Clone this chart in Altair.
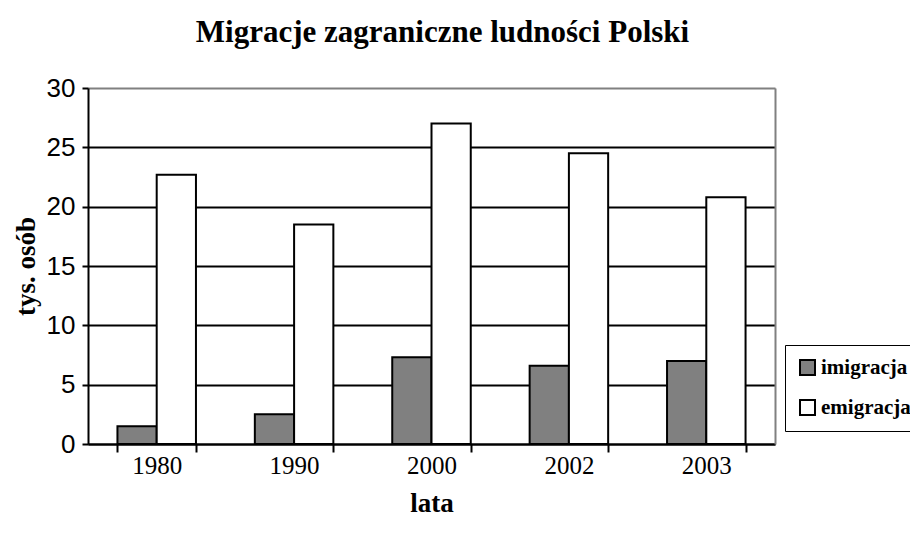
import altair as alt
import pandas as pd

years = ["1980", "1990", "2000", "2002", "2003"]
series = ["imigracja", "emigracja"]
imigracja = [1.5, 2.5, 7.3, 6.6, 7.0]
emigracja = [22.7, 18.5, 27.0, 24.5, 20.8]
y_ticks = [0, 5, 10, 15, 20, 25, 30]

rows = []
for i, y in enumerate(years):
    rows.append({"rok": y, "typ": "imigracja", "wartosc": imigracja[i]})
    rows.append({"rok": y, "typ": "emigracja", "wartosc": emigracja[i]})
df = pd.DataFrame(rows)

serif = "Liberation Serif"
sans = "Liberation Sans"

yscale = alt.Scale(domain=[0, 30], nice=False, zero=True)

bars = alt.Chart(df).mark_bar(stroke="black", strokeWidth=2).encode(
    x=alt.X(
        "rok:N",
        sort=years,
        scale=alt.Scale(paddingInner=3 / 7, paddingOuter=1.5 / 7),
        axis=alt.Axis(
            title="lata",
            labelAngle=0,
            labelFont=serif,
            labelFontSize=25,
            labelColor="black",
            labelPadding=1,
            tickBand="extent",
            tickSize=8,
            tickWidth=2,
            tickColor="black",
            domainColor="black",
            domainWidth=2,
            titleFont=serif,
            titleFontSize=27,
            titleFontWeight="bold",
            titleColor="black",
            titlePadding=12,
            grid=False,
        ),
    ),
    xOffset=alt.XOffset("typ:N", sort=series, scale=alt.Scale(paddingInner=0, paddingOuter=0)),
    y=alt.Y(
        "wartosc:Q",
        scale=yscale,
        axis=alt.Axis(
            title="tys. osób",
            values=y_ticks,
            labelFont=sans,
            labelFontSize=26,
            labelColor="black",
            labelPadding=7,
            tickSize=6,
            tickWidth=2,
            tickColor="black",
            domainColor="black",
            domainWidth=2,
            grid=True,
            gridWidth=2,
            gridColor={"condition": {"test": "datum.value >= 30", "value": "#808080"}, "value": "black"},
            titleFont=serif,
            titleFontSize=27,
            titleFontWeight="bold",
            titleColor="black",
            titlePadding=6,
        ),
    ),
    color=alt.Color(
        "typ:N",
        sort=series,
        scale=alt.Scale(domain=series, range=["#808080", "#ffffff"]),
        legend=alt.Legend(
            title=None,
            orient="none",
            legendX=697,
            legendY=257,
            strokeColor="black",
            fillColor="white",
            padding=12,
            symbolType="square",
            symbolSize=225,
            symbolStrokeColor="black",
            symbolStrokeWidth=2,
            symbolOpacity=1,
            labelFont=serif,
            labelFontSize=21,
            labelFontWeight="bold",
            labelColor="black",
            labelOffset=3,
            rowPadding=17,
            labelLimit=200,
        ),
    ),
)

right_axis = alt.Chart(df).mark_rule(opacity=0).encode(
    y=alt.Y(
        "wartosc:Q",
        scale=yscale,
        axis=alt.Axis(
            orient="right",
            title=None,
            labels=False,
            ticks=False,
            grid=False,
            domainColor="#808080",
            domainWidth=2,
        ),
    )
)

chart = (
    alt.layer(bars, right_axis)
    .resolve_axis(y="independent")
    .properties(
        width=687,
        height=356,
        padding={"left": 80, "top": 80, "right": 135, "bottom": 80},
        autosize=alt.AutoSizeParams(type="none"),
        title=alt.TitleParams(
            "Migracje zagraniczne ludności Polski",
            font=serif,
            fontSize=31,
            fontWeight="bold",
            color="black",
            anchor="middle",
            dx=11,
            offset=26,
        ),
    )
    .configure_view(stroke=None)
    .configure_legend(strokeWidth=2)
    .configure(background="white")
)

chart.save("out.html", embed_options={"renderer": "svg", "actions": False})
